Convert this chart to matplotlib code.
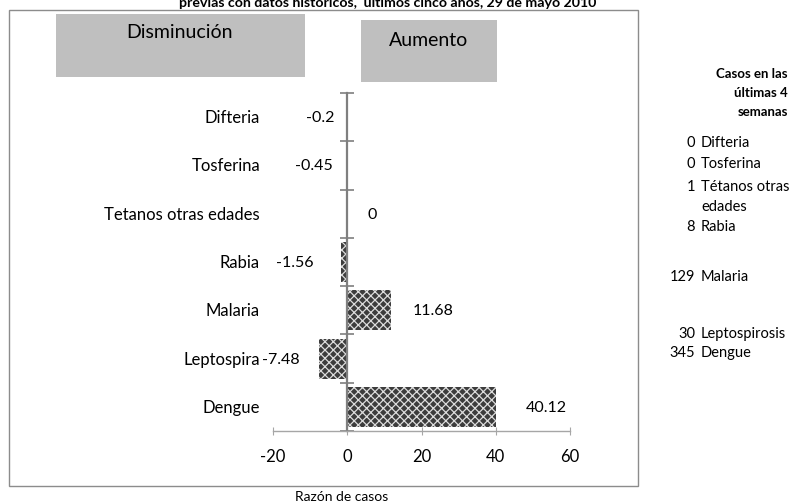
import matplotlib.pyplot as plt
from matplotlib.patches import Rectangle

plt.rcParams['font.family'] = ['Lato', 'DejaVu Sans']
plt.rcParams['hatch.color'] = '#dcdcdc'
plt.rcParams['hatch.linewidth'] = 0.9

# data
categorias = ['Difteria', 'Tosferina', 'Tetanos otras edades', 'Rabia',
              'Malaria', 'Leptospira', 'Dengue']
razon = [-0.2, -0.45, 0, -1.56, 11.68, -7.48, 40.12]
etiquetas = ['-0.2', '-0.45', '0', '-1.56', '11.68', '-7.48', '40.12']

casos_nombres = ['Difteria', 'Tosferina', 'Tétanos otras\nedades', 'Rabia',
                 'Malaria', 'Leptospirosis', 'Dengue']
casos_valores = ['0', '0', '1', '8', '129', '30', '345']

x_ticks = [-20, 0, 20, 40, 60]

# hand-placed label nudges (pixels) and table rows (pixels from top)
label_dx = [-12, -13, 20, -28, 22, -20, 30]
casos_y = [143, 164, 187, 227, 277, 334, 353]

W, H = 801, 502
fig = plt.figure(figsize=(W / 100, H / 100), dpi=100)


def fx(px):
    return px / W


def fy(py):
    return 1 - py / H


# outer frame
fig.patches.append(Rectangle((fx(9), fy(487)), fx(638) - fx(9), fy(11) - fy(487),
                             transform=fig.transFigure, fill=False,
                             edgecolor='#8c8c8c', linewidth=1.0))

# grey boxes
fig.patches.append(Rectangle((fx(56), fy(78)), fx(305) - fx(56), fy(15) - fy(78),
                             transform=fig.transFigure, facecolor='#bfbfbf',
                             edgecolor='none'))
fig.patches.append(Rectangle((fx(361), fy(83)), fx(497) - fx(361), fy(21) - fy(83),
                             transform=fig.transFigure, facecolor='#bfbfbf',
                             edgecolor='none'))
fig.text(fx(180), fy(33), 'Disminución', ha='center', va='center', fontsize=14)
fig.text(fx(429), fy(40), 'Aumento', ha='center', va='center', fontsize=14)

fig.text(fx(388), fy(7), 'previas con datos históricos,  últimos cinco años, 29 de mayo 2010',
         ha='center', va='baseline', fontsize=10.2, fontweight='bold')

ax = fig.add_axes([fx(273), fy(432), fx(570) - fx(273), fy(94) - fy(432)])
ax.set_xlim(-20, 60)
ax.set_ylim(len(categorias) - 0.5, -0.5)

ypos = list(range(len(categorias)))
ax.barh(ypos, razon, height=0.83, color='#3c3c3c', hatch='xxxx', edgecolor='#dcdcdc',
        linewidth=0)

for i, (v, lab, dx) in enumerate(zip(razon, etiquetas, label_dx)):
    ax.annotate(lab, xy=(v, i), xytext=(dx, 0), textcoords='offset pixels',
                ha='right' if dx < 0 else 'left', va='center', fontsize=11.5)
    ax.annotate(categorias[i], xy=(0, i), xycoords=('axes fraction', 'data'),
                xytext=(-13, 0), textcoords='offset pixels',
                ha='right', va='center', fontsize=12)

for s in ['top', 'right']:
    ax.spines[s].set_visible(False)
ax.spines['left'].set_position(('data', 0))
ax.spines['left'].set_color('#7f7f7f')
ax.spines['left'].set_linewidth(1.6)
ax.spines['bottom'].set_color('#a6a6a6')
ax.spines['bottom'].set_linewidth(1.0)

ax.set_yticks([i - 0.5 for i in range(len(categorias) + 1)])
ax.set_yticklabels([])
ax.tick_params(axis='y', direction='inout', length=10, color='#7f7f7f', width=1.2)
ax.set_xticks(x_ticks)
ax.set_xticklabels([str(t) for t in x_ticks])
ax.tick_params(axis='x', direction='inout', length=6, color='#a6a6a6', labelsize=12, pad=9)

fig.text(fx(342), fy(497), 'Razón de casos', ha='center', va='center', fontsize=10)

# side table
for txt, yy in zip(['Casos en las', 'últimas 4', 'semanas'], [74, 93, 112]):
    fig.text(fx(788), fy(yy), txt, ha='right', va='center', fontsize=9.5, fontweight='bold')
for val, nom, yy in zip(casos_valores, casos_nombres, casos_y):
    fig.text(fx(695), fy(yy), val, ha='right', va='center', fontsize=10.5)
    for k, linea in enumerate(nom.split('\n')):
        fig.text(fx(701), fy(yy + 20 * k), linea, ha='left', va='center', fontsize=10.5)

fig.savefig('out.png', dpi=100)
